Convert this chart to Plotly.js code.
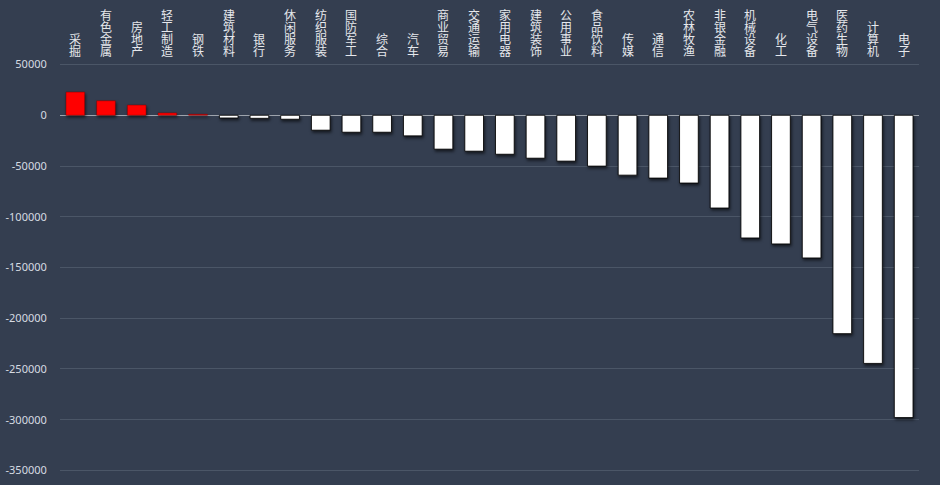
<!DOCTYPE html>
<html>
<head>
<meta charset="utf-8">
<script src="https://cdn.plot.ly/plotly-3.0.1.min.js"></script>
<style>
html,body{margin:0;padding:0;background:#343e50;}
#chart{width:940px;height:485px;}
.barlayer .point path{filter:drop-shadow(1.5px 2px 1.5px rgba(0,0,0,0.6));}
</style>
</head>
<body>
<div id="chart"></div>
<script>
var categories = ['采掘','有色金属','房地产','轻工制造','钢铁','建筑材料','银行','休闲服务','纺织服装','国防军工','综合','汽车','商业贸易','交通运输','家用电器','建筑装饰','公用事业','食品饮料','传媒','通信','农林牧渔','非银金融','机械设备','化工','电气设备','医药生物','计算机','电子'];
var values = [22900,14300,10100,2300,1000,-2700,-3000,-3900,-14700,-16700,-16700,-20300,-33400,-35400,-38400,-42300,-45200,-50100,-59000,-61900,-66800,-91400,-120900,-126800,-140600,-215200,-244500,-297900];
var yTickVals = [50000,0,-50000,-100000,-150000,-200000,-250000,-300000,-350000];
var yTickText = ['50000','0','-50000','-100000','-150000','-200000','-250000','-300000','-350000'];

var colors = values.map(function(v){ return v >= 0 ? '#ff0000' : '#ffffff'; });
var lineColors = values.map(function(v){ return v >= 0 ? 'rgba(120,0,0,0.5)' : 'rgba(0,0,0,0.85)'; });

var trace = {
  type: 'bar',
  x: categories,
  y: values,
  marker: {color: colors, line: {color: lineColors, width: 1}},
  hoverinfo: 'x+y'
};

var FONT_SIZE = 12;
var annotations = categories.map(function(cat){
  return {
    x: cat, xref: 'x', y: 1, yref: 'paper',
    text: cat, showarrow: false,
    xanchor: 'center', yanchor: 'bottom', yshift: 3,
    font: {family: '"Noto Sans CJK SC", sans-serif', size: FONT_SIZE, color: '#e6e8ec'}
  };
});

var layout = {
  width: 940, height: 485,
  margin: {l: 60, r: 21, t: 63, b: 13, pad: 0},
  paper_bgcolor: '#343e50',
  plot_bgcolor: '#343e50',
  showlegend: false,
  bargap: 0.39,
  xaxis: {
    type: 'category', side: 'top', showticklabels: false,
    showgrid: false, zeroline: false, showline: false, ticks: ''
  },
  yaxis: {
    range: [-351500, 51500],
    tickmode: 'array', tickvals: yTickVals, ticktext: yTickText,
    ticks: 'outside', ticklen: 10, tickcolor: 'rgba(0,0,0,0)',
    showgrid: true, gridcolor: '#4b5667', gridwidth: 1,
    zeroline: true, zerolinecolor: '#9ea4ad', zerolinewidth: 1,
    showline: false,
    tickfont: {family: '"Noto Sans", "DejaVu Sans", sans-serif', size: 11, color: '#d6dbe2'}
  },
  annotations: annotations
};

Plotly.newPlot('chart', [trace], layout, {displayModeBar: false, staticPlot: true}).then(function(gd){
  // turn each category label into an upright vertical column whose bottom sits just above the plot area
  var fl = gd._fullLayout;
  var plotTop = fl._size.t + fl.yaxis.l2p(yTickVals[0]);
  var bottomY = plotTop - 7;
  var texts = gd.querySelectorAll('.annotation-text-g text');
  texts.forEach(function(t){
    var bb = t.getBBox();
    var cx = bb.x + bb.width / 2;
    var ctm = t.getScreenCTM();
    var yLocal = (bottomY - ctm.f) / ctm.d;
    t.style.writingMode = 'vertical-rl';
    t.style.textOrientation = 'upright';
    t.setAttribute('text-anchor', 'end');
    t.style.textAnchor = 'end';
    t.setAttribute('x', cx);
    t.setAttribute('y', yLocal);
  });
});
</script>
</body>
</html>
